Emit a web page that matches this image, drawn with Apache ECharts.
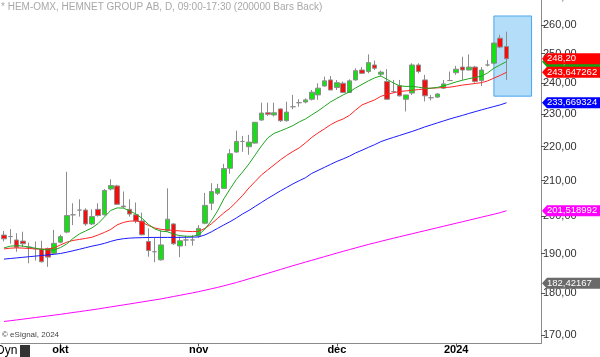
<!DOCTYPE html>
<html><head><meta charset="utf-8">
<script src="https://cdn.jsdelivr.net/npm/echarts@6/dist/echarts.min.js"></script>
<style>html,body{margin:0;padding:0;background:#fff;overflow:hidden}#c{width:600px;height:357px}</style>
</head><body><div id="c"></div>
<script>
const dates = ['2023-09-19','2023-09-20','2023-09-21','2023-09-22','2023-09-25','2023-09-26','2023-09-27','2023-09-28','2023-09-29',
'2023-10-02','2023-10-03','2023-10-04','2023-10-05','2023-10-06','2023-10-09','2023-10-10','2023-10-11','2023-10-12','2023-10-13','2023-10-16','2023-10-17','2023-10-18','2023-10-19','2023-10-20','2023-10-23','2023-10-24','2023-10-25','2023-10-26','2023-10-27','2023-10-30','2023-10-31',
'2023-11-01','2023-11-02','2023-11-03','2023-11-06','2023-11-07','2023-11-08','2023-11-09','2023-11-10','2023-11-13','2023-11-14','2023-11-15','2023-11-16','2023-11-17','2023-11-20','2023-11-21','2023-11-22','2023-11-23','2023-11-24','2023-11-27','2023-11-28','2023-11-29','2023-11-30',
'2023-12-01','2023-12-04','2023-12-05','2023-12-06','2023-12-07','2023-12-08','2023-12-11','2023-12-12','2023-12-13','2023-12-14','2023-12-15','2023-12-18','2023-12-19','2023-12-20','2023-12-21','2023-12-22','2023-12-27','2023-12-28','2023-12-29',
'2024-01-02','2024-01-03','2024-01-04','2024-01-05','2024-01-08','2024-01-09','2024-01-10','2024-01-11','2024-01-12'];
const futureDates = ['2024-01-15','2024-01-16','2024-01-17','2024-01-18','2024-01-19'];

const opens = [194.9,194.5,193.6,193.3,191.7,191.3,191.2,191.3,190.1,193.0,195.7,200.4,201.7,201.7,197.9,201.9,200.4,207.6,208.5,202.8,201.9,200.4,198.7,193.2,190.5,188.4,196.1,197.9,192.0,193.6,193.6,194.7,198.1,203.6,206.4,207.8,213.6,218.4,221.6,220.0,221.1,228.2,230.5,229.8,231.7,228.0,232.4,233.7,233.9,234.8,236.2,239.1,241.1,238.6,240.0,237.0,241.1,244.4,243.9,246.1,243.0,240.6,237.3,239.2,234.8,236.8,246.1,241.1,235.3,235.5,238.4,240.9,243.5,245.4,244.4,245.4,240.9,246.1,246.7,255.3,252.4];
const highs = [196.0,196.5,195.4,195.8,192.9,193.2,193.4,191.6,196.3,195.0,212.6,203.6,204.7,202.2,201.9,203.6,207.6,210.4,208.8,206.9,204.7,203.8,201.0,196.7,194.3,196.1,207.8,198.1,194.5,194.7,194.9,197.6,206.5,209.3,209.1,214.9,219.3,224.9,223.3,223.6,227.6,233.7,233.7,233.7,231.9,234.0,236.2,234.8,235.1,237.8,240.0,242.2,242.4,241.1,240.6,241.3,245.0,245.4,249.7,247.6,244.2,244.7,241.1,241.1,236.2,246.7,246.7,242.8,236.2,236.8,241.1,243.9,245.8,248.9,249.7,245.8,245.4,247.8,253.8,256.5,257.6];
const lows = [193.2,192.6,190.5,191.7,187.5,188.2,187.7,186.6,189.9,192.7,195.4,197.6,199.9,197.4,197.6,199.9,200.2,207.2,203.1,202.2,199.9,198.1,194.8,189.2,187.8,188.2,195.8,192.3,189.1,192.0,192.1,194.2,197.8,201.7,205.9,207.7,212.0,218.2,218.5,217.6,220.9,228.0,229.5,229.3,227.6,227.7,231.6,232.4,233.5,234.4,234.6,238.9,237.8,237.8,236.8,236.8,240.9,243.1,243.3,244.4,242.2,234.6,236.8,235.7,230.9,236.2,243.3,234.1,234.4,235.2,238.1,240.7,242.8,241.1,244.3,240.2,239.1,245.6,246.3,251.8,241.1];
const closes = [193.9,194.5,191.7,192.6,191.7,191.3,187.9,189.1,192.7,194.5,200.2,200.4,201.7,197.9,199.9,200.2,207.2,208.6,203.3,202.6,200.6,198.7,195.0,190.8,190.5,192.3,199.2,192.6,193.4,193.6,193.6,196.7,203.0,206.9,207.7,213.5,217.9,221.6,221.6,221.4,227.5,230.4,230.0,230.5,228.0,230.7,232.4,233.7,234.6,237.1,238.4,240.8,237.8,240.2,237.0,240.8,244.2,243.3,246.9,245.0,243.7,234.8,237.3,235.9,236.2,246.1,243.9,235.9,235.3,236.5,239.8,240.9,244.7,244.4,245.4,240.6,244.4,246.1,253.6,252.2,248.2];

const maFast = [191.51,191.96,192.09,191.98,191.72,191.43,191.11,190.98,190.98,191.59,192.56,194.01,195.21,196.01,196.82,198.04,199.81,201.6,202.3,202.24,201.46,200.64,199.4,197.77,196.55,195.96,195.8,195.16,194.76,194.6,194.57,194.95,196.55,198.72,201.46,204.81,207.64,210.36,212.54,214.88,217.55,220.25,222.68,224.06,224.82,225.6,226.47,227.62,228.55,229.82,231.07,232.51,233.95,235.08,236.21,237.18,238.49,239.64,240.78,241.77,242.44,241.28,240.12,239.14,238.98,238.98,238.72,238.39,238.39,238.65,239.14,239.8,240.45,241.01,241.51,241.94,242.34,243.44,245.01,246.12,247.23];
const maMid = [191.24,191.43,191.51,191.45,191.35,191.24,191.16,191.22,191.51,192.3,193.01,193.48,193.74,194.01,194.33,194.95,195.62,196.42,197.63,198.31,198.66,198.72,198.31,197.5,196.82,196.44,196.28,196.15,196.01,195.9,195.83,195.93,196.69,197.9,199.4,200.92,202.22,203.97,205.8,207.92,209.78,211.67,213.12,214.59,216.06,217.4,218.59,219.65,221.16,222.83,224.21,225.44,226.75,227.77,228.55,229.66,231.39,232.99,233.79,234.59,235.73,236.38,236.87,237.33,237.5,237.73,237.93,238.16,238.39,238.49,238.62,238.72,239.05,239.41,239.67,239.93,240.2,240.78,241.7,242.6,243.65];
const maSlow = [188.58,188.74,188.89,189.05,189.21,189.36,189.52,189.68,189.83,190.04,190.38,190.75,191.14,191.56,191.96,192.3,192.7,193.23,193.66,193.93,194.09,194.17,194.22,194.25,194.28,194.28,194.28,194.28,194.3,194.33,194.36,194.41,194.95,195.75,196.69,197.63,198.52,199.54,200.65,201.6,202.72,203.83,204.95,206.0,207.07,208.06,209.07,209.98,210.85,212.1,212.97,213.86,214.74,215.62,216.36,217.17,218.15,218.95,219.8,220.61,221.55,222.22,222.83,223.44,224.06,224.67,225.35,226.06,226.68,227.31,227.93,228.55,229.12,229.66,230.26,230.83,231.39,231.93,232.47,232.99,233.67];
const maLong = [173.14,173.3,173.49,173.68,173.87,174.07,174.26,174.45,174.64,174.83,175.05,175.27,175.48,175.7,175.91,176.13,176.38,176.62,176.86,177.1,177.34,177.59,177.83,178.08,178.32,178.57,178.86,179.16,179.45,179.75,180.04,180.36,180.71,181.06,181.41,181.8,182.21,182.63,183.08,183.55,184.0,184.48,184.95,185.43,185.91,186.4,186.88,187.35,187.81,188.27,188.74,189.21,189.68,190.14,190.61,191.06,191.51,191.96,192.4,192.82,193.24,193.66,194.06,194.46,194.87,195.26,195.67,196.07,196.47,196.88,197.28,197.69,198.1,198.5,198.91,199.32,199.74,200.15,200.56,200.98,201.52];

const yTicks = [170,180,190,200,210,220,230,240,250,260,270];
const monthNames = {'10':'okt','11':'nov','12':'dec','01':'2024'};
const tagValues = [247.23, 248.20, 243.647262, 233.669324, 201.518992, 182.42167];
const tagLabels = ['247,23','248,20','243,647262','233,669324','201,518992','182,42167'];
const tagColors = ['#12a312','#ff0000','#ff0000','#0000ff','#ff00ff','#6a6a6a'];
const boxRange = {x0: '2024-01-10', x1: '2024-01-18', y0: 235.8, y1: 263.2};

const cats = dates.concat(futureDates);
const isMonthStart = (i) => i > 0 && cats[i].slice(5,7) !== cats[i-1].slice(5,7);
const candleData = opens.map((o,i)=>[o, closes[i], lows[i], highs[i]]);

const chart = echarts.init(document.getElementById('c'), null, {renderer:'canvas'});
const FONT = 'Liberation Sans, Arial, sans-serif';
const lineSeries = (name, data, color) => ({
  name, type:'line', data, symbol:'none', smooth:false, z:3,
  lineStyle:{color, width:1}, emphasis:{disabled:true}, silent:true, animation:false
});
chart.setOption({
  animation:false,
  grid:{left:0.86, right:59, top:-8, bottom:13.6, containLabel:false, outerBoundsMode:'none'},
  xAxis:{
    type:'category', data:cats, boundaryGap:true,
    axisLine:{show:true, lineStyle:{color:'#8a8a8a', width:1}},
    axisTick:{show:true, interval:(i)=>isMonthStart(i), alignWithLabel:true, length:3, lineStyle:{color:'#555'}},
    axisLabel:{interval:(i)=>isMonthStart(i), formatter:(v)=>monthNames[v.slice(5,7)]||'', color:'#000', fontWeight:'bold', fontSize:11, fontFamily:FONT, margin:1},
    splitLine:{show:false}
  },
  yAxis:{
    type:'log', logBase:10, min:168, max:272, position:'right',
    axisLine:{show:true, lineStyle:{color:'#8a8a8a', width:1}},
    axisTick:{show:true, customValues:yTicks, length:4, inside:false, lineStyle:{color:'#555'}},
    axisLabel:{customValues:yTicks, formatter:(v)=>v.toFixed(2).replace('.',','), color:'#333', fontSize:11, fontFamily:FONT, margin:2},
    splitLine:{show:false}
  },
  series:[
    {type:'candlestick', data:candleData, barWidth:5, z:2, silent:true,
     itemStyle:{color:'#14e014', color0:'#ff0a0a', borderColor:'#8c8c8c', borderColor0:'#8c8c8c', borderWidth:1},
     markArea:{silent:true, itemStyle:{color:'rgba(130,198,245,0.6)', borderColor:'#4aa6ec', borderWidth:1},
       data:[[{xAxis:boxRange.x0, yAxis:boxRange.y1},{xAxis:boxRange.x1, yAxis:boxRange.y0}]]}
    },
    lineSeries('long', maLong, '#ff00ff'),
    lineSeries('slow', maSlow, '#1a1aff'),
    lineSeries('mid', maMid, '#ff2424'),
    lineSeries('fast', maFast, '#1ea51e')
  ]
});

const gfx = [
  {type:'text', left:1, top:2, z:10, style:{text:'* HEM-OMX, HEMNET GROUP AB, D, 09:00-17:30 (200000 Bars Back)', fill:'#a8a8a8', font:'10px '+FONT}},
  {type:'text', left:2, top:331, z:10, style:{text:'\u00a9 eSignal, 2024', fill:'#444', font:'8px '+FONT}},
  {type:'text', left:-4, top:345, z:10, style:{text:'Dyn', fill:'#000', font:'12px '+FONT}},
  {type:'rect', left:20, top:345, z:10, shape:{width:10, height:12}, style:{fill:'#333'}}
];
const x0 = 542;
tagValues.forEach((v,i)=>{
  const yc = chart.convertToPixel({yAxisIndex:0}, v);
  gfx.push({type:'polygon', z:20+i, shape:{points:[[x0,yc],[x0+5,yc-5.5],[600,yc-5.5],[600,yc+5.5],[x0+5,yc+5.5]]}, style:{fill:tagColors[i]}});
  gfx.push({type:'text', z:20+i, x:x0+5, y:yc, style:{text:tagLabels[i], fill:'#fff', font:'9.5px '+FONT, verticalAlign:'middle'}});
});
chart.setOption({graphic:gfx});
</script></body></html>
